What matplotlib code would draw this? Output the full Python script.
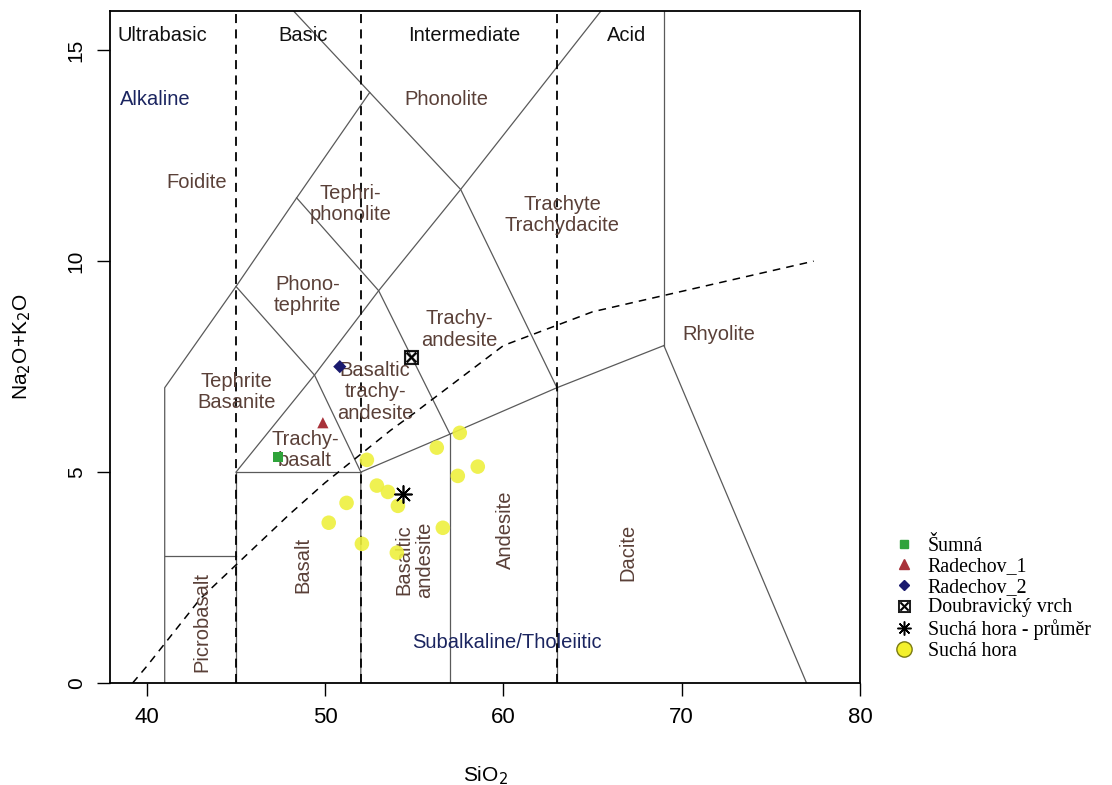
import matplotlib
matplotlib.use("Agg")
import matplotlib.pyplot as plt
from matplotlib.lines import Line2D

# --- sample compositions: SiO2 (wt%) and Na2O+K2O (wt%) ---
sumna_sio2 = [47.35]
sumna_alk = [5.36]

radechov1_sio2 = [49.87]
radechov1_alk = [6.17]

radechov2_sio2 = [50.82]
radechov2_alk = [7.50]

doubravicky_sio2 = [54.80]
doubravicky_alk = [7.74]

sucha_mean_sio2 = [54.36]
sucha_mean_alk = [4.49]

sucha_sio2 = [52.34, 56.26, 57.55, 58.56, 57.44, 52.90, 53.52, 54.08,
              51.20, 50.20, 52.06, 56.60, 54.02]
sucha_alk = [5.29, 5.58, 5.93, 5.13, 4.91, 4.68, 4.53, 4.20,
             4.27, 3.80, 3.30, 3.68, 3.09]

legend_labels = ["Šumná", "Radechov_1", "Radechov_2", "Doubravický vrch",
                 "Suchá hora - průměr", "Suchá hora"]

# --- TAS classification field boundaries (Le Bas et al. 1986) ---
tas_boundaries = [
    [(41, 0), (41, 7), (45, 9.4), (48.4, 11.5), (52.5, 14)],
    [(41, 3), (45, 3)],
    [(45, 0), (45, 5)],
    [(45, 5), (52, 5)],
    [(45, 5), (49.4, 7.3), (53, 9.3), (57.6, 11.7), (65.6, 16)],
    [(52, 0), (52, 5), (57, 5.9), (63, 7), (69, 8)],
    [(57, 0), (57, 5.9)],
    [(63, 0), (63, 7)],
    [(69, 8), (69, 16)],
    [(69, 8), (77.0, 0)],
    [(45, 9.4), (49.4, 7.3), (52, 5)],
    [(48.4, 11.5), (53, 9.3), (57, 5.9)],
    [(48.07, 16), (52.5, 14), (57.6, 11.7), (63, 7)],
]

# silica-class dividers (ultrabasic / basic / intermediate / acid)
silica_dividers = [45, 52, 63]

# alkaline / subalkaline divide (Irvine & Baragar 1971)
ib_sio2 = [39.2, 40, 43, 45, 48, 50, 53.7, 55, 60, 65, 77.4]
ib_alk = [0, 0.4, 2, 2.8, 4, 4.75, 6, 6.4, 8, 8.8, 10]

# field names: (text, SiO2, alkali, rotation, colour key)
field_labels = [
    ("Ultrabasic", 40.85, 15.35, 0, "k"),
    ("Basic", 48.75, 15.35, 0, "k"),
    ("Intermediate", 57.8, 15.35, 0, "k"),
    ("Acid", 66.9, 15.35, 0, "k"),
    ("Alkaline", 40.45, 13.84, 0, "b"),
    ("Subalkaline/Tholeiitic", 60.2, 0.97, 0, "b"),
    ("Foidite", 42.8, 11.87, 0, "f"),
    ("Phonolite", 56.8, 13.84, 0, "f"),
    ("Tephri-\nphonolite", 51.4, 11.35, 0, "f"),
    ("Trachyte\nTrachydacite", 63.3, 11.1, 0, "f"),
    ("Phono-\ntephrite", 49.0, 9.19, 0, "f"),
    ("Trachy-\nandesite", 57.55, 8.38, 0, "f"),
    ("Rhyolite", 72.1, 8.26, 0, "f"),
    ("Tephrite\nBasanite", 45.05, 6.9, 0, "f"),
    ("Basaltic\ntrachy-\nandesite", 52.8, 6.9, 0, "f"),
    ("Trachy-\nbasalt", 48.86, 5.53, 0, "f"),
    ("Picrobasalt", 43.08, 1.45, 90, "f"),
    ("Basalt", 48.75, 2.8, 90, "f"),
    ("Basaltic\nandesite", 55.0, 2.92, 90, "f"),
    ("Andesite", 60.1, 3.63, 90, "f"),
    ("Dacite", 67.0, 3.1, 90, "f"),
]
label_colours = {"k": "#111111", "b": "#1b2560", "f": "#5a4038"}

plt.rcParams["font.family"] = ["Liberation Sans", "DejaVu Sans"]

fig = plt.figure(figsize=(11.12, 7.85), dpi=100)
ax = fig.add_axes([0.0989, 0.1299, 0.6745, 0.8561])

for seg in tas_boundaries:
    xs, ys = zip(*seg)
    ax.plot(xs, ys, color="#5a5a5a", lw=0.9, zorder=2)

for x in silica_dividers:
    ax.plot([x, x], [0, 16.5], color="black", lw=1.3,
            dashes=(5, 3.5), zorder=2)

ax.plot(ib_sio2, ib_alk, color="black", lw=1.1, dashes=(5, 4), zorder=2)

for text, x, y, rot, ckey in field_labels:
    ax.text(x, y, text, rotation=rot, ha="center", va="center",
            color=label_colours[ckey], fontsize=14.5, linespacing=1.15,
            zorder=3)

# samples
ax.scatter(sucha_sio2, sucha_alk, s=110, marker="o", color="#eef03e",
           edgecolors="none", alpha=0.9, zorder=4)
ax.scatter(sumna_sio2, sumna_alk, s=55, marker="s", color="#2fa33a",
           edgecolors="none", zorder=5)
ax.scatter(radechov1_sio2, radechov1_alk, s=65, marker="^",
           color="#a8323a", edgecolors="none", zorder=5)
ax.scatter(radechov2_sio2, radechov2_alk, s=45, marker="D",
           color="#1a1a6e", edgecolors="none", zorder=5)
ax.scatter(doubravicky_sio2, doubravicky_alk, s=110, marker=r"$\boxtimes$",
           color="black", linewidths=0.4, zorder=5)
ax.scatter(sucha_mean_sio2, sucha_mean_alk, s=150, marker=(8, 2, 0),
           color="black", linewidths=1.2, zorder=5)

ax.set_xlim(37.93, 80)
ax.set_ylim(0, 15.93)
ax.set_xticks([40, 50, 60, 70, 80])
ax.set_yticks([0, 5, 10, 15])
ax.tick_params(direction="out", length=9.4, width=1.0, color="black",
               labelsize=15, pad=8)
for lab in ax.get_yticklabels():
    lab.set_rotation(90)
    lab.set_va("center")
for lab in ax.get_xticklabels():
    lab.set_fontsize(16)
for sp in ax.spines.values():
    sp.set_linewidth(1.3)
    sp.set_color("black")

ax.set_xlabel("SiO$_2$", fontsize=15, labelpad=26)
ax.set_ylabel("Na$_2$O+K$_2$O", fontsize=15, labelpad=24)

handles = [
    Line2D([], [], ls="none", marker="s", ms=6, color="#2fa33a"),
    Line2D([], [], ls="none", marker="^", ms=7, color="#a8323a"),
    Line2D([], [], ls="none", marker="D", ms=5, color="#1a1a6e"),
    Line2D([], [], ls="none", marker=r"$\boxtimes$", ms=9, color="black",
           markeredgewidth=0.4),
    Line2D([], [], ls="none", marker=(8, 2, 0), ms=10, color="black",
           markeredgewidth=1.1),
    Line2D([], [], ls="none", marker="o", ms=11, markerfacecolor="#f3f02c",
           markeredgecolor="#7a7a10", markeredgewidth=1.0),
]
fig.legend(handles, legend_labels, loc="upper left",
           bbox_to_anchor=(0.7915, 0.334), frameon=False,
           prop={"family": ["Liberation Serif", "DejaVu Serif"], "size": 14.3},
           handlelength=1.0, handletextpad=0.7, labelspacing=0.08,
           borderpad=0.2)

fig.savefig("out.png", dpi=100)
